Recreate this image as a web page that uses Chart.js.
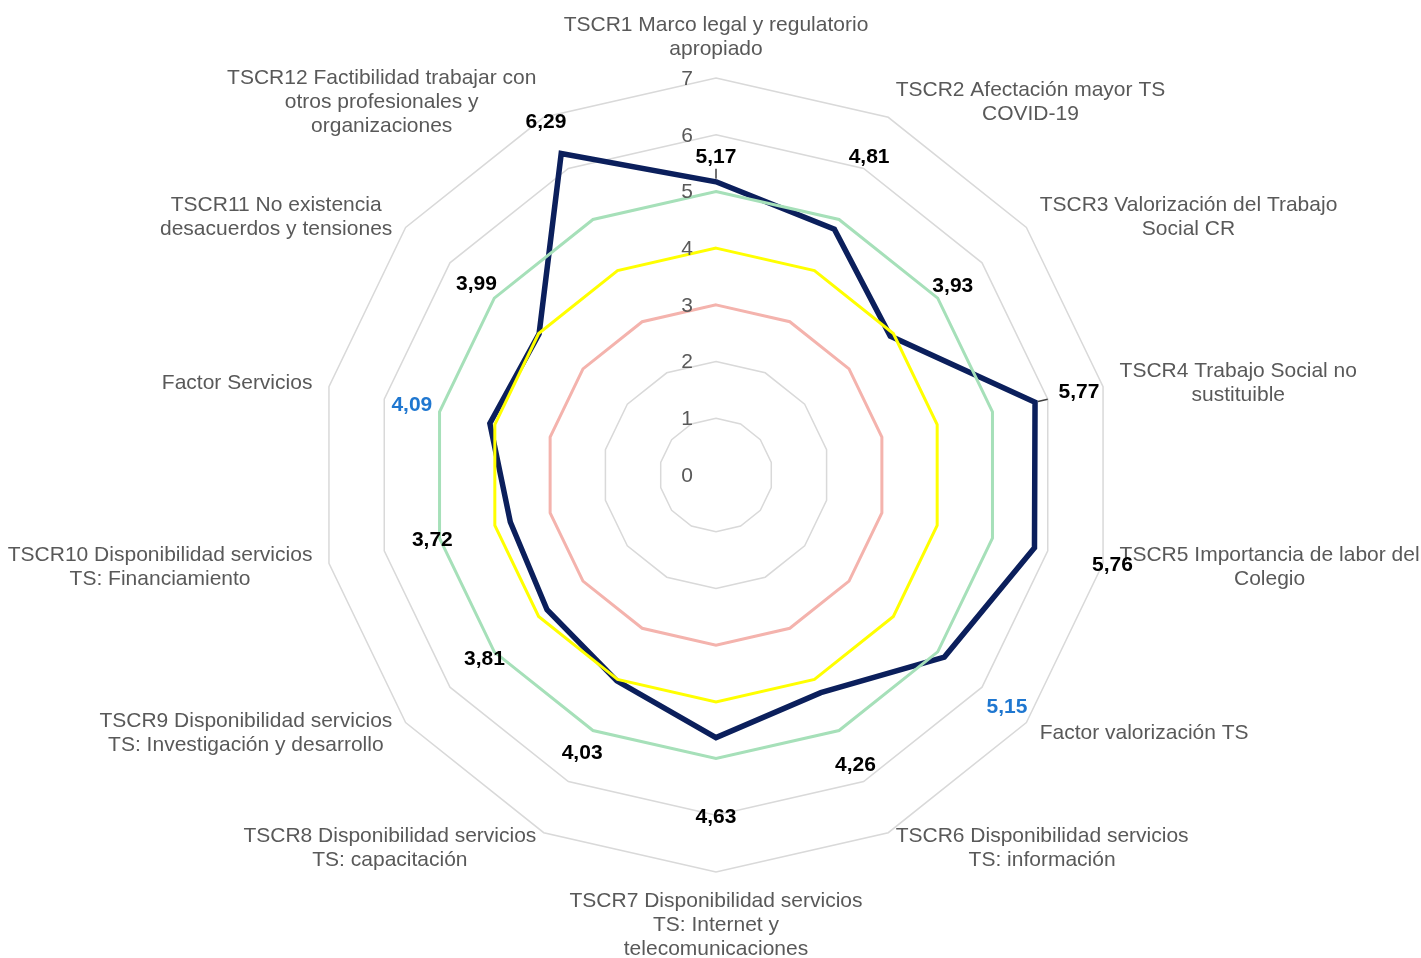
<!DOCTYPE html>
<html lang="es">
<head>
  <meta charset="UTF-8">
  <title>Factores Trabajo Social</title>
  <script src="https://cdn.jsdelivr.net/npm/chart.js"></script>
  <style>
    html, body {
      margin: 0;
      padding: 0;
      background: #ffffff;
    }
    #wrap {
      width: 1421px;
      height: 958px;
    }
  </style>
</head>
<body>

  <div id="wrap"><canvas id="grafico"></canvas></div>

  <script>
    // categorías (ejes del radar), cada una con sus líneas de texto
    const categorias = [
      ['TSCR1 Marco legal y regulatorio', 'apropiado'],
      ['TSCR2 Afectación mayor TS', 'COVID-19'],
      ['TSCR3 Valorización del Trabajo', 'Social CR'],
      ['TSCR4 Trabajo Social no', 'sustituible'],
      ['TSCR5 Importancia de labor del', 'Colegio'],
      ['Factor valorización TS'],
      ['TSCR6 Disponibilidad servicios', 'TS: información'],
      ['TSCR7 Disponibilidad servicios', 'TS: Internet y', 'telecomunicaciones'],
      ['TSCR8 Disponibilidad servicios', 'TS: capacitación'],
      ['TSCR9 Disponibilidad servicios', 'TS: Investigación y desarrollo'],
      ['TSCR10 Disponibilidad servicios', 'TS: Financiamiento'],
      ['Factor Servicios'],
      ['TSCR11 No existencia', 'desacuerdos y tensiones'],
      ['TSCR12 Factibilidad trabajar con', 'otros profesionales y', 'organizaciones']
    ];

    const valores = [5.17, 4.81, 3.93, 5.77, 5.76, 5.15, 4.26, 4.63, 4.03, 3.81, 3.72, 4.09, 3.99, 6.29];
    const nivelAlto = [5, 5, 5, 5, 5, 5, 5, 5, 5, 5, 5, 5, 5, 5];
    const nivelMedio = [4, 4, 4, 4, 4, 4, 4, 4, 4, 4, 4, 4, 4, 4];
    const nivelBajo = [3, 3, 3, 3, 3, 3, 3, 3, 3, 3, 3, 3, 3, 3];
    const ticks = [0, 1, 2, 3, 4, 5, 6, 7];
    const factores = [5, 11]; // índices de los factores (etiqueta en azul)

    // distancia extra (px) de cada etiqueta de valor respecto a su punto
    const desplazEtiqueta = [25, 80, 80, 45, 80, 80, 80, 80, 80, 80, 80, 80, 80, 35];
    const conGuia = [0, 3];

    const FONT = '"Liberation Sans", Arial, sans-serif';
    const GRIS = '#595959';

    const etiquetasPlugin = {
      id: 'etiquetas',
      afterDatasetsDraw(chart) {
        const ctx = chart.ctx;
        const s = chart.scales.r;
        const n = categorias.length;
        ctx.save();

        // valores del eje
        ctx.font = '21px ' + FONT;
        ctx.fillStyle = GRIS;
        ctx.textAlign = 'center';
        ctx.textBaseline = 'middle';
        ticks.forEach(t => {
          ctx.fillText(String(t), s.xCenter - 29, s.yCenter - s.getDistanceFromCenterForValue(t) + 1);
        });

        // nombres de los ejes
        const lh = 24;
        categorias.forEach((lineas, i) => {
          const ang = i * 360 / n;
          const p = s.getPointPosition(i, s.drawingArea + 17);
          const w = Math.max(...lineas.map(l => ctx.measureText(l).width));
          const h = lineas.length * lh;
          let cx, top;
          if (Math.abs(ang) < 0.01) { cx = p.x; top = p.y - h; }
          else if (Math.abs(ang - 180) < 0.01) { cx = p.x; top = p.y; }
          else if (ang < 180) { cx = p.x + w / 2; top = p.y - h / 2; }
          else { cx = p.x - w / 2; top = p.y - h / 2; }
          lineas.forEach((l, k) => ctx.fillText(l, cx, top + lh * k + lh / 2));
        });

        // etiquetas de datos
        ctx.font = 'bold 21px ' + FONT;
        valores.forEach((v, i) => {
          const r = s.getDistanceFromCenterForValue(v);
          const p = s.getPointPosition(i, r + desplazEtiqueta[i]);
          if (conGuia.includes(i)) {
            const a = s.getPointPosition(i, r + 3);
            const b = s.getPointPosition(i, r + 13);
            ctx.strokeStyle = '#404040';
            ctx.lineWidth = 1.5;
            ctx.beginPath();
            ctx.moveTo(a.x, a.y);
            ctx.lineTo(b.x, b.y);
            ctx.stroke();
          }
          ctx.fillStyle = factores.includes(i) ? '#1f77d0' : '#000000';
          ctx.fillText(v.toFixed(2).replace('.', ','), p.x, p.y);
        });
        ctx.restore();
      }
    };

    const ctx = document.getElementById('grafico').getContext('2d');
    new Chart(ctx, {
      type: 'radar',
      data: {
        labels: categorias,
        datasets: [
          { label: 'Medio', data: nivelMedio, borderColor: '#ffff00', borderWidth: 3, order: 1 },
          { label: 'Alto', data: nivelAlto, borderColor: '#a6e0b9', borderWidth: 3, order: 2 },
          { label: 'Bajo', data: nivelBajo, borderColor: '#f4b3ad', borderWidth: 3, order: 3 },
          { label: 'Promedio', data: valores, borderColor: '#0b1f5c', borderWidth: 5.5, order: 4 }
        ]
      },
      options: {
        responsive: true,
        maintainAspectRatio: false,
        animation: false,
        layout: { padding: { top: 78, bottom: 86, left: 12, right: 0 } },
        elements: {
          line: { fill: false, tension: 0, borderJoinStyle: 'miter' },
          point: { radius: 0, hoverRadius: 0 }
        },
        plugins: {
          legend: { display: false },
          tooltip: { enabled: false }
        },
        scales: {
          r: {
            min: 0,
            max: 7,
            ticks: { stepSize: 1, display: false, showLabelBackdrop: false },
            pointLabels: { display: false },
            angleLines: { display: false },
            grid: { color: '#d9d9d9', lineWidth: 1.5 }
          }
        }
      },
      plugins: [etiquetasPlugin]
    });
  </script>

</body>
</html>
